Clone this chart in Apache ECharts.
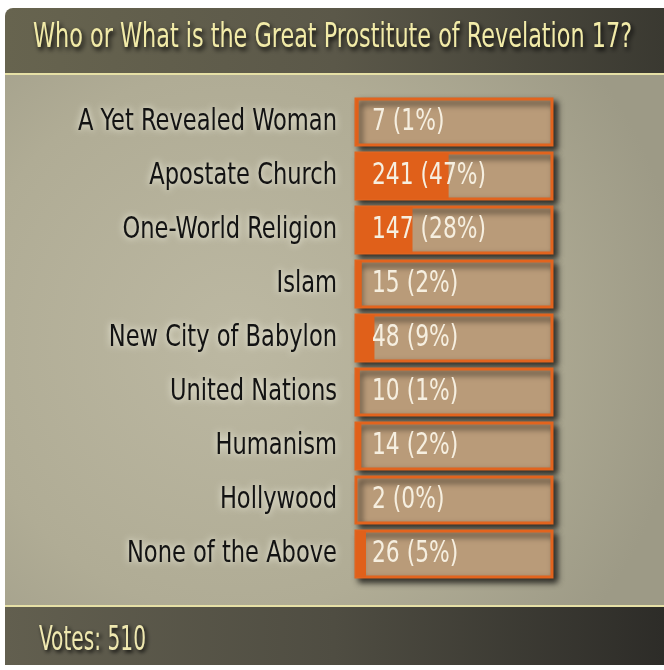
<!DOCTYPE html>
<html><head><meta charset="utf-8">
<script src="https://cdn.jsdelivr.net/npm/echarts@6/dist/echarts.min.js"></script>
<style>html,body{margin:0;padding:0;background:#fff}#c{width:664px;height:670px}</style>
</head><body><div id="c"></div>
<script>
const title = 'Who or What is the Great Prostitute of Revelation 17?';
const categories = ['A Yet Revealed Woman','Apostate Church','One-World Religion','Islam','New City of Babylon','United Nations','Humanism','Hollywood','None of the Above'];
const votes = [7,241,147,15,48,10,14,2,26];
const percents = [1,47,28,2,9,1,2,0,5];
const totalVotes = 510;
const FONT = '"DejaVu Sans Condensed","DejaVu Sans",sans-serif';

const ctx = document.createElement('canvas').getContext('2d');
function fitScale(text, size, target){ ctx.font = size+'px '+FONT; return target / ctx.measureText(text).width; }
const footerText = 'Votes: ' + totalVotes;
const valueLabels = votes.map((v,i)=> v+' ('+percents[i]+'%)');
const titleScale = fitScale(title, 33, 599);
const footScale = fitScale(footerText, 33, 107);
const catScale = fitScale(categories[0], 31, 259);
const valScale = fitScale(valueLabels[1], 30, 114);

const chart = echarts.init(document.getElementById('c'));
chart.setOption({
  animation:false,
  grid:{left:356,right:112,top:95,height:486,containLabel:false},
  xAxis:{type:'value',min:0,max:totalVotes,show:false},
  yAxis:{type:'category',data:categories,inverse:true,axisLine:{show:false},axisTick:{show:false},axisLabel:{show:false}},
  series:[{
    type:'bar',data:votes,barWidth:46,
    itemStyle:{color:'#e0601a'},
    showBackground:true,
    backgroundStyle:{color:'#b99b79',borderColor:'#e2641e',borderWidth:3,shadowColor:'rgba(0,0,0,0.75)',shadowBlur:6,shadowOffsetX:4,shadowOffsetY:4}
  }]
});

const graphics = [
  {type:'rect',z:-10,shape:{x:5,y:8,width:659,height:66,r:[8,0,0,0]},
   style:{fill:new echarts.graphic.LinearGradient(0,0,1,0,[{offset:0,color:'#67644f'},{offset:0.5,color:'#5b5849'},{offset:1,color:'#3a3931'}])}},
  {type:'rect',z:-10,shape:{x:5,y:75,width:659,height:531},
   style:{fill:new echarts.graphic.RadialGradient(0.35,0.5,0.85,[{offset:0,color:'#bcb8a2'},{offset:0.6,color:'#b0ac95'},{offset:1,color:'#9d9a86'}])}},
  {type:'rect',z:-9,shape:{x:5,y:73,width:659,height:2},style:{fill:'#e6e0a6'}},
  {type:'rect',z:-10,shape:{x:5,y:607,width:659,height:58},
   style:{fill:new echarts.graphic.LinearGradient(0,0,1,0,[{offset:0,color:'#625f4f'},{offset:0.5,color:'#4f4d42'},{offset:1,color:'#2d2c28'}])}},
  {type:'rect',z:-9,shape:{x:5,y:605,width:659,height:2},style:{fill:'#e6e0a6'}},
  {type:'text',x:39,y:641,scaleX:footScale,
   style:{text:footerText,fill:'#efe8b0',font:'33px '+FONT,align:'left',verticalAlign:'middle',textShadowColor:'#000',textShadowBlur:4,textShadowOffsetX:2,textShadowOffsetY:2}},
  {type:'text',x:332.5,y:38,scaleX:titleScale,
   style:{text:title,fill:'#f2eba8',font:'33px '+FONT,align:'center',verticalAlign:'middle',textShadowColor:'#000',textShadowBlur:5,textShadowOffsetX:2,textShadowOffsetY:3}}
];

// category and value labels placed through the chart's own axes
const x0 = chart.convertToPixel({xAxisIndex:0}, 0);
categories.forEach((c,i)=>{
  const y = chart.convertToPixel({yAxisIndex:0}, c);
  graphics.push({type:'text',z:10,x:x0-19,y:y,scaleX:catScale,
    style:{text:c,fill:'#131313',font:'31px '+FONT,align:'right',verticalAlign:'middle',textShadowColor:'rgba(255,255,240,0.95)',textShadowBlur:7}});
  graphics.push({type:'text',z:10,x:x0+16,y:y,scaleX:valScale,
    style:{text:valueLabels[i],fill:'#f6efe0',font:'30px '+FONT,align:'left',verticalAlign:'middle'}});
});
chart.setOption({graphic:graphics});
</script></body></html>
